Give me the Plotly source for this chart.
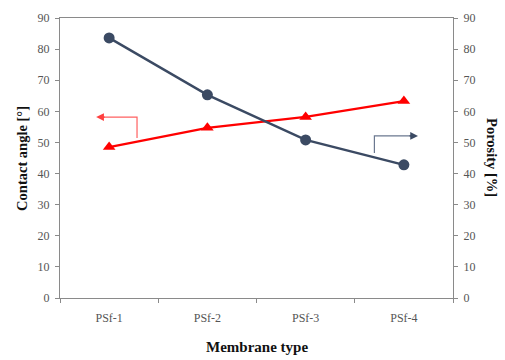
import plotly.graph_objects as go

categories = ["PSf-1", "PSf-2", "PSf-3", "PSf-4"]
contact_angle = [48.5, 54.7, 58.2, 63.3]
porosity = [83.6, 65.3, 50.8, 42.8]
y_ticks = [0, 10, 20, 30, 40, 50, 60, 70, 80, 90]

RED = "#ff0000"
BLUE = "#3b4a63"
AXIS = "#8a8a8a"
FONT = "Liberation Serif"

fig = go.Figure()
fig.add_trace(go.Scatter(x=categories, y=contact_angle, mode="lines+markers",
                         line=dict(color=RED, width=2.4),
                         marker=dict(symbol="triangle-up", size=11, color=RED),
                         name="Contact angle", yaxis="y"))
fig.add_trace(go.Scatter(x=categories, y=porosity, mode="lines+markers",
                         line=dict(color=BLUE, width=2.4),
                         marker=dict(symbol="circle", size=11, color=BLUE),
                         name="Porosity", yaxis="y2"))

axis_common = dict(range=[0, 90], tickvals=y_ticks, ticks="outside", ticklen=4,
                   tickcolor=AXIS, showline=True, linecolor=AXIS, linewidth=1.3,
                   showgrid=False, zeroline=False, ticklabelstandoff=3,
                   tickfont=dict(family=FONT, size=12, color="#555555"))

fig.update_layout(
    width=505, height=360,
    margin=dict(l=60, r=52, t=18, b=62),
    paper_bgcolor="white", plot_bgcolor="white",
    showlegend=False,
    xaxis=dict(type="category", categoryorder="array", categoryarray=categories,
               range=[-0.5, 3.5],
               ticks="outside", ticklen=4, tickcolor=AXIS, tickson="boundaries",
               showline=True, linecolor=AXIS, linewidth=1.3, mirror=True,
               showgrid=False, zeroline=False, ticklabelstandoff=8,
               tickfont=dict(family=FONT, size=12, color="#555555")),
    yaxis=dict(side="left", **axis_common),
    yaxis2=dict(side="right", overlaying="y", **axis_common),
)

# axis titles
fig.add_annotation(text="<b>Contact angle [°]</b>", xref="paper", yref="paper",
                   x=-0.097, y=0.5, textangle=-90, showarrow=False,
                   xanchor="center", yanchor="middle",
                   font=dict(family=FONT, size=14.5, color="#111111"))
fig.add_annotation(text="<b>Porosity [%]</b>", xref="paper", yref="paper",
                   x=1.099, y=0.5, textangle=90, showarrow=False,
                   xanchor="center", yanchor="middle",
                   font=dict(family=FONT, size=14.5, color="#111111"))
fig.add_annotation(text="<b>Membrane type</b>", xref="paper", yref="paper",
                   x=0.5, y=-0.175, showarrow=False, yanchor="middle",
                   font=dict(family=FONT, size=15, color="#111111"))

# pointer arrows (red -> left axis, blue -> right axis)
fig.add_shape(type="path", xref="paper", yref="paper",
              path="M 0.196 0.571 L 0.196 0.646 L 0.11 0.646",
              line=dict(color="#ff6060", width=1.2))
fig.add_annotation(xref="paper", yref="paper", axref="pixel", ayref="pixel",
                   x=0.092, y=0.646, ax=10, ay=0, text="", showarrow=True,
                   arrowhead=2, arrowsize=1.3, arrowwidth=1.2, arrowcolor="#ff4040")
fig.add_shape(type="path", xref="paper", yref="paper",
              path="M 0.80 0.518 L 0.80 0.579 L 0.9 0.579",
              line=dict(color="#6b7890", width=1.2))
fig.add_annotation(xref="paper", yref="paper", axref="pixel", ayref="pixel",
                   x=0.911, y=0.579, ax=-10, ay=0, text="", showarrow=True,
                   arrowhead=2, arrowsize=1.3, arrowwidth=1.2, arrowcolor=BLUE)

fig.write_html("out.html")
